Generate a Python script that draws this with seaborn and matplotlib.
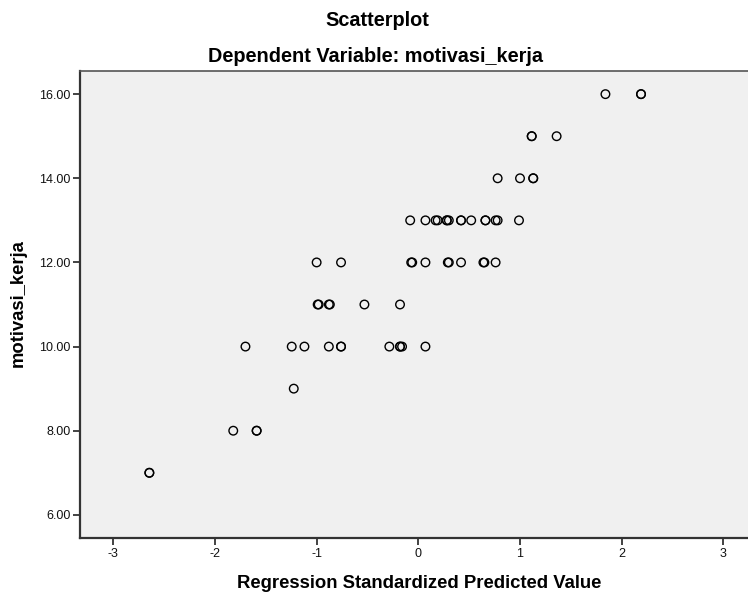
import numpy as np
import pandas as pd
import matplotlib
matplotlib.use("Agg")
import matplotlib.pyplot as plt
import seaborn as sns

# standardized predicted values, grouped by observed motivasi_kerja score
pred_16 = [1.84, 2.19, 2.19]
pred_15 = [1.115, 1.115, 1.36]
pred_14 = [0.78, 1.00, 1.13, 1.13]
pred_13 = [-0.08, 0.07, 0.17, 0.19, 0.28, 0.28, 0.30, 0.42, 0.42, 0.52,
           0.66, 0.66, 0.76, 0.78, 0.99]
pred_12 = [-1.00, -0.76, -0.07, -0.06, 0.07, 0.29, 0.30, 0.42, 0.64, 0.65, 0.76]
pred_11 = [-0.99, -0.98, -0.88, -0.87, -0.53, -0.18]
pred_10 = [-1.70, -1.245, -1.12, -0.88, -0.76, -0.76, -0.285, -0.18, -0.18,
           -0.16, 0.07]
pred_9 = [-1.225]
pred_8 = [-1.82, -1.59, -1.59]
pred_7 = [-2.645, -2.645]

groups = {16: pred_16, 15: pred_15, 14: pred_14, 13: pred_13, 12: pred_12,
          11: pred_11, 10: pred_10, 9: pred_9, 8: pred_8, 7: pred_7}

x_ticks = [-3, -2, -1, 0, 1, 2, 3]
y_ticks = [6, 8, 10, 12, 14, 16]

rows = []
for score, preds in groups.items():
    for p in preds:
        rows.append({"pred": p, "motivasi_kerja": score})
df = pd.DataFrame(rows)

sns.set_theme(style="white")
plt.rcParams["font.family"] = ["Liberation Sans", "DejaVu Sans"]
plt.rcParams["text.color"] = "black"

fig = plt.figure(figsize=(7.48, 6.01), dpi=100)
ax = fig.add_axes([80 / 748, 63 / 601, 668 / 748, 467 / 601])
ax.set_facecolor("#f0f0f0")

sns.scatterplot(data=df, x="pred", y="motivasi_kerja", ax=ax,
                marker="o", s=38, facecolor="none", edgecolor="black",
                linewidth=1.0)

ax.set_xlim(-3.327, 3.242)
ax.set_ylim(5.45, 16.55)
ax.set_xticks(x_ticks)
ax.set_xticklabels([str(t) for t in x_ticks])
ax.set_yticks(y_ticks)
ax.set_yticklabels([f"{t:.2f}" for t in y_ticks])
ax.tick_params(axis="both", direction="out", length=5, width=1.2,
               color="#222222", labelsize=9, labelcolor="#111111", pad=2,
               bottom=True, left=True)

for side in ["left", "bottom"]:
    ax.spines[side].set_linewidth(1.6)
    ax.spines[side].set_color("#333333")
ax.spines["top"].set_linewidth(1.2)
ax.spines["top"].set_color("#555555")
ax.spines["right"].set_visible(False)

ax.set_xlabel("")
ax.set_ylabel("")
fig.text(419 / 748, 1 - 584 / 601, "Regression Standardized Predicted Value",
         ha="center", va="center", fontsize=13.3, fontweight="bold")
fig.text(18 / 748, 1 - 303 / 601, "motivasi_kerja", rotation=90,
         ha="center", va="center", fontsize=13.3, fontweight="bold")
fig.text(377 / 748, 1 - 20 / 601, "Scatterplot",
         ha="center", va="center", fontsize=14.3, fontweight="bold")
fig.text(376 / 748, 1 - 57 / 601, "Dependent Variable: motivasi_kerja",
         ha="center", va="center", fontsize=14.3, fontweight="bold")

fig.savefig("out.png", dpi=100, facecolor="white")
